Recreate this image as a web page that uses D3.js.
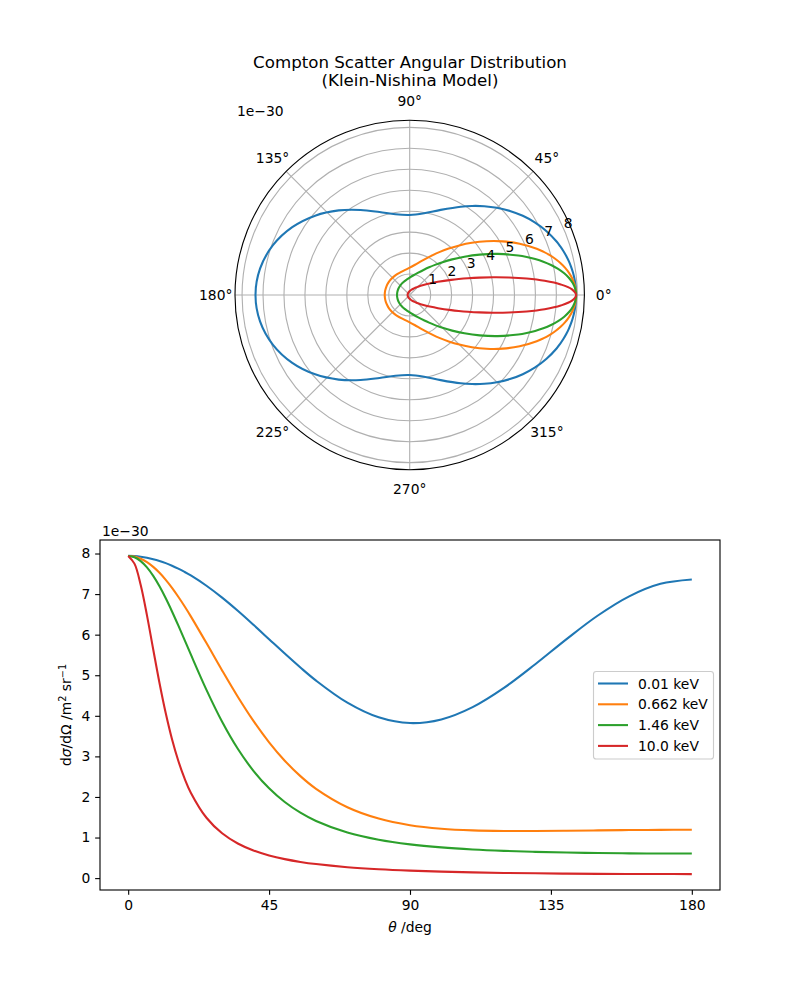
<!DOCTYPE html>
<html><head><meta charset="utf-8">
<script src="https://cdn.jsdelivr.net/npm/d3@7"></script>
<style>body{margin:0;background:#fff} svg{font-family:"DejaVu Sans",sans-serif}</style>
</head><body><svg id="c" width="800" height="1000"></svg>
<script>
// scattering angle theta (deg)
const angles = [0,2,4,6,8,10,12,14,16,18,20,25,30,35,40,45,50,55,60,70,80,90,100,110,120,130,140,150,160,170,180];
// d sigma / d Omega in units of 1e-30 m^2 sr^-1
const s001 = [7.9408,7.9358,7.9207,7.8957,7.8609,7.8164,7.7625,7.6995,7.6276,7.5472,7.4587,7.2052,6.9119,6.5879,6.2431,5.8880,5.5334,5.1899,4.8677,4.3235,3.9621,3.8209,3.9105,4.2133,4.6871,5.2705,5.8907,6.4720,6.9446,7.2525,7.3593];
const s0662 = [7.9408,7.9235,7.8717,7.7867,7.6699,7.5236,7.3502,7.1531,6.9351,6.7001,6.4513,5.7924,5.1190,4.4708,3.8751,3.3476,2.8939,2.5133,2.2003,1.7463,1.4667,1.3044,1.2171,1.1756,1.1610,1.1608,1.1675,1.1763,1.1842,1.1895,1.1914];
const s146 = [7.9408,7.9084,7.8124,7.6567,7.4470,7.1906,6.8959,6.5721,6.2279,5.8726,5.5132,4.6397,3.8539,3.1879,2.6452,2.2138,1.8756,1.6121,1.4072,1.1222,0.9450,0.8317,0.7570,0.7064,0.6715,0.6470,0.6298,0.6180,0.6102,0.6059,0.6045];
const s100 = [7.9408,7.7504,7.2238,6.4753,5.6347,4.8082,4.0616,3.4224,2.8913,2.4583,2.1065,1.4875,1.1042,0.8538,0.6819,0.5590,0.4682,0.3992,0.3457,0.2694,0.2190,0.1841,0.1592,0.1411,0.1277,0.1178,0.1104,0.1052,0.1017,0.0996,0.0990];
const labels = ["0.01 keV","0.662 keV","1.46 keV","10.0 keV"];
const seriesList = [s001, s0662, s146, s100];
const colors = ["#1f77b4","#ff7f0e","#2ca02c","#d62728"];
const radialTicks = [1,2,3,4,5,6,7,8];
const thetaTicks = [0,45,90,135,180,225,270,315];
const xTicks = [0,45,90,135,180];
const yTicks = [0,1,2,3,4,5,6,7,8];
const offsetText = "1e\u221230";
const titleLines = ["Compton Scatter Angular Distribution","(Klein-Nishina Model)"];

const svg = d3.select("#c");
const FS = 13.89, LW = 2.08, GW = 1.11;
const grid = "#b0b0b0";

// title
titleLines.forEach((t,i)=>svg.append("text").attr("x",410).attr("y",68+i*18)
  .attr("text-anchor","middle").attr("font-size",16.67).text(t));

// ---------- polar ----------
const cx = 409.7, cy = 295, R = 174.7;
const r = d3.scaleLinear().domain([0,8.337]).range([0,R]);
const P = svg.append("g").attr("transform",`translate(${cx},${cy})`);
const rad = d=>d*Math.PI/180;
radialTicks.forEach(t=>P.append("circle").attr("r",r(t)).attr("fill","none").attr("stroke",grid).attr("stroke-width",GW));
thetaTicks.forEach(t=>P.append("line").attr("x1",0).attr("y1",0)
  .attr("x2",R*Math.cos(rad(t))).attr("y2",-R*Math.sin(rad(t))).attr("stroke",grid).attr("stroke-width",GW));

const radial = d3.lineRadial().angle(d=>Math.PI/2-rad(d[0])).radius(d=>r(d[1])).curve(d3.curveCatmullRomClosed.alpha(0.5));
seriesList.forEach((s,i)=>{
  const pts = angles.map((a,j)=>[a,s[j]]);
  const back = angles.slice(1,-1).reverse().map(a=>[360-a, s[angles.indexOf(a)]]);
  P.append("path").attr("d",radial(pts.concat(back))).attr("fill","none")
   .attr("stroke",colors[i]).attr("stroke-width",LW);
});
P.append("circle").attr("r",R).attr("fill","none").attr("stroke","#000").attr("stroke-width",GW);
radialTicks.forEach(t=>{
  const a = rad(22.5);
  P.append("text").attr("x",r(t)*Math.cos(a)+3.5).attr("y",-r(t)*Math.sin(a)-7.5).attr("dy","0.36em")
   .attr("text-anchor","middle").attr("font-size",FS).text(t);
});
thetaTicks.forEach(t=>{
  P.append("text").attr("x",194*Math.cos(rad(t))).attr("y",-194*Math.sin(rad(t))).attr("dy","0.36em")
   .attr("text-anchor","middle").attr("font-size",FS).text(t+"\u00b0");
});
svg.append("text").attr("x",237).attr("y",116).attr("font-size",FS).text(offsetText);

// ---------- cartesian ----------
const x = d3.scaleLinear().domain([-9,189]).range([100,720]);
const y = d3.scaleLinear().domain([-0.293,8.333]).range([890,540]);
const C = svg.append("g");
const line = d3.line().x((d,j)=>x(angles[j])).y(d=>y(d)).curve(d3.curveCatmullRom.alpha(0.5));
seriesList.forEach((s,i)=>C.append("path").attr("d",line(s)).attr("fill","none")
  .attr("stroke",colors[i]).attr("stroke-width",LW));
C.append("rect").attr("x",100).attr("y",540).attr("width",620).attr("height",350)
  .attr("fill","none").attr("stroke","#000").attr("stroke-width",GW);

const ax = C.append("g").attr("transform","translate(0,890)")
  .call(d3.axisBottom(x).tickValues(xTicks).tickSize(4.86).tickPadding(4.86).tickSizeOuter(0));
const ay = C.append("g").attr("transform","translate(100,0)")
  .call(d3.axisLeft(y).tickValues(yTicks).tickSize(4.86).tickPadding(4.86).tickSizeOuter(0));
[ax,ay].forEach(g=>{
  g.select(".domain").remove();
  g.attr("font-family",null).attr("font-size",null);
  g.selectAll("line").attr("stroke","#000").attr("stroke-width",GW);
  g.selectAll("text").attr("font-size",FS).attr("fill","#000");
});
ax.selectAll("text").attr("dy","0.76em");
svg.append("text").attr("x",102).attr("y",536).attr("font-size",FS).text(offsetText);

// x label
const xl = svg.append("text").attr("x",410).attr("y",932).attr("text-anchor","middle").attr("font-size",FS);
xl.append("tspan").attr("font-style","italic").text("\u03b8");
xl.append("tspan").text(" /deg");
// y label
const yl = svg.append("text").attr("transform","translate(71,715) rotate(-90)").attr("text-anchor","middle").attr("font-size",FS);
yl.append("tspan").text("d");
yl.append("tspan").attr("font-style","italic").text("\u03c3");
yl.append("tspan").text("/d\u03a9 /m");
yl.append("tspan").attr("font-size",9.7).attr("dy",-5.5).text("2");
yl.append("tspan").attr("dy",5.5).text(" sr");
yl.append("tspan").attr("font-size",9.7).attr("dy",-5.5).text("\u22121");

// legend
const L = svg.append("g");
L.append("rect").attr("x",593.5).attr("y",671.5).attr("width",120).attr("height",87.5).attr("rx",2.8)
 .attr("fill","#fff").attr("fill-opacity",0.8).attr("stroke","#cccccc").attr("stroke-width",GW);
labels.forEach((lab,i)=>{
  const yy = 683.5 + i*20.8;
  L.append("line").attr("x1",598).attr("x2",628).attr("y1",yy).attr("y2",yy).attr("stroke",colors[i]).attr("stroke-width",LW);
  L.append("text").attr("x",638).attr("y",yy).attr("dy","0.36em").attr("font-size",FS).text(lab);
});
</script></body></html>
